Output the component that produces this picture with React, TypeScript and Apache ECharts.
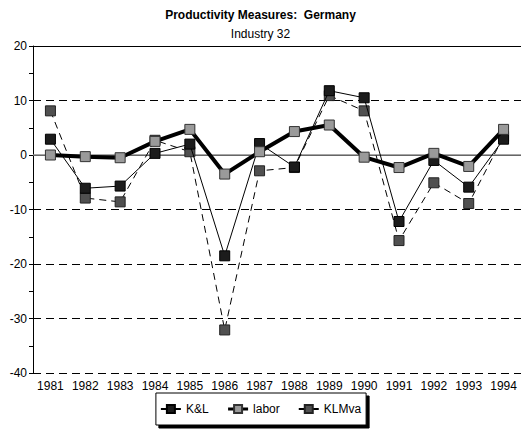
import React, { useEffect, useRef } from "react";
import * as echarts from "echarts";

const years = ["1981","1982","1983","1984","1985","1986","1987","1988","1989","1990","1991","1992","1993","1994"];
const kl = [2.9, -6.1, -5.7, 0.3, 2.0, -18.5, 2.1, -2.2, 11.8, 10.5, -12.2, -1.0, -5.9, 2.9];
const labor = [0.0, -0.3, -0.5, 2.5, 4.7, -3.5, 0.6, 4.3, 5.5, -0.4, -2.3, 0.3, -2.1, 4.7];
const klmva = [8.1, -7.9, -8.6, 2.7, 0.6, -32.1, -2.9, -2.3, 10.9, 8.1, -15.7, -5.1, -8.9, 3.4];

const FONT = "'Liberation Sans', Arial, sans-serif";

export default function App() {
  const ref = useRef<HTMLDivElement>(null);
  useEffect(() => {
    const chart = echarts.init(ref.current!, null, { renderer: "svg" });
    chart.setOption({
      animation: false,
      backgroundColor: "#ffffff",
      textStyle: { fontFamily: FONT, color: "#000" },
      title: {
        text: "Productivity Measures:  Germany",
        subtext: "Industry 32",
        left: "center",
        top: 4,
        itemGap: 7,
        textStyle: { fontFamily: FONT, fontSize: 12, fontWeight: "bold", color: "#000" },
        subtextStyle: { fontFamily: FONT, fontSize: 12, color: "#000" },
      },
      grid: { left: 33, right: 0, top: 46, bottom: 57, containLabel: false },
      xAxis: [
        {
          type: "category",
          data: years,
          boundaryGap: true,
          axisLine: { lineStyle: { color: "#000", width: 1 } },
          axisTick: { alignWithLabel: true, length: 5, lineStyle: { color: "#000" } },
          axisLabel: { color: "#000", fontFamily: FONT, fontSize: 12, margin: 7 },
          splitLine: { show: false },
        },
        {
          type: "category",
          data: years,
          position: "bottom",
          boundaryGap: true,
          axisLine: { show: false },
          axisTick: { alignWithLabel: true, inside: true, length: 5, lineStyle: { color: "#000" } },
          axisLabel: { show: false },
          splitLine: { show: false },
        },
      ],
      yAxis: {
        type: "value",
        min: -40,
        max: 20,
        interval: 10,
        axisLine: { show: true, lineStyle: { color: "#000", width: 1 } },
        axisTick: { show: true, length: 4, lineStyle: { color: "#000" } },
        minorTick: { show: true, splitNumber: 2, length: 4, lineStyle: { color: "#000" } },
        axisLabel: { color: "#000", fontFamily: FONT, fontSize: 12, margin: 6 },
        splitLine: { show: true, lineStyle: { color: "#000", type: [8, 5], width: 1 } },
      },
      legend: {
        data: [
          { name: "K&L" },
          { name: "labor", lineStyle: { width: 3 } },
          { name: "KLMva", lineStyle: { type: "solid" } },
        ],
        bottom: 5,
        left: "center",
        itemWidth: 20,
        itemHeight: 10,
        itemGap: 18,
        padding: [10, 5, 10, 4],
        borderColor: "#000",
        borderWidth: 1,
        borderRadius: 0,
        backgroundColor: "#fff",
        shadowColor: "#000",
        shadowOffsetX: 3,
        shadowOffsetY: 3,
        shadowBlur: 0,
        textStyle: { fontFamily: FONT, fontSize: 12, color: "#000" },
      },
      series: [
        {
          name: "KLMva",
          type: "line",
          data: klmva,
          symbol: "rect",
          symbolSize: 10,
          z: 2,
          lineStyle: { color: "#000", width: 1, type: [7, 5] },
          itemStyle: { color: "#505050", borderColor: "#222", borderWidth: 1 },
          markLine: {
            silent: true,
            symbol: "none",
            label: { show: false },
            z: 1,
            data: [
              { yAxis: 0, lineStyle: { color: "#888", type: "solid", width: 1.5 } },
              { yAxis: 20, lineStyle: { color: "#000", type: "solid", width: 1 } },
            ],
          },
        },
        {
          name: "K&L",
          type: "line",
          data: kl,
          symbol: "rect",
          symbolSize: 10,
          z: 3,
          lineStyle: { color: "#000", width: 1 },
          itemStyle: { color: "#1c1c1c", borderColor: "#000", borderWidth: 1 },
        },
        {
          name: "labor",
          type: "line",
          data: labor,
          symbol: "rect",
          symbolSize: 10,
          z: 4,
          lineStyle: { color: "#000", width: 4 },
          itemStyle: { color: "#9a9a9a", borderColor: "#333", borderWidth: 1 },
        },
      ],
    });
    return () => chart.dispose();
  }, []);
  return (
    <div
      ref={ref}
      style={{ position: "absolute", left: 0, top: 0, width: 521, height: 430 }}
    />
  );
}
